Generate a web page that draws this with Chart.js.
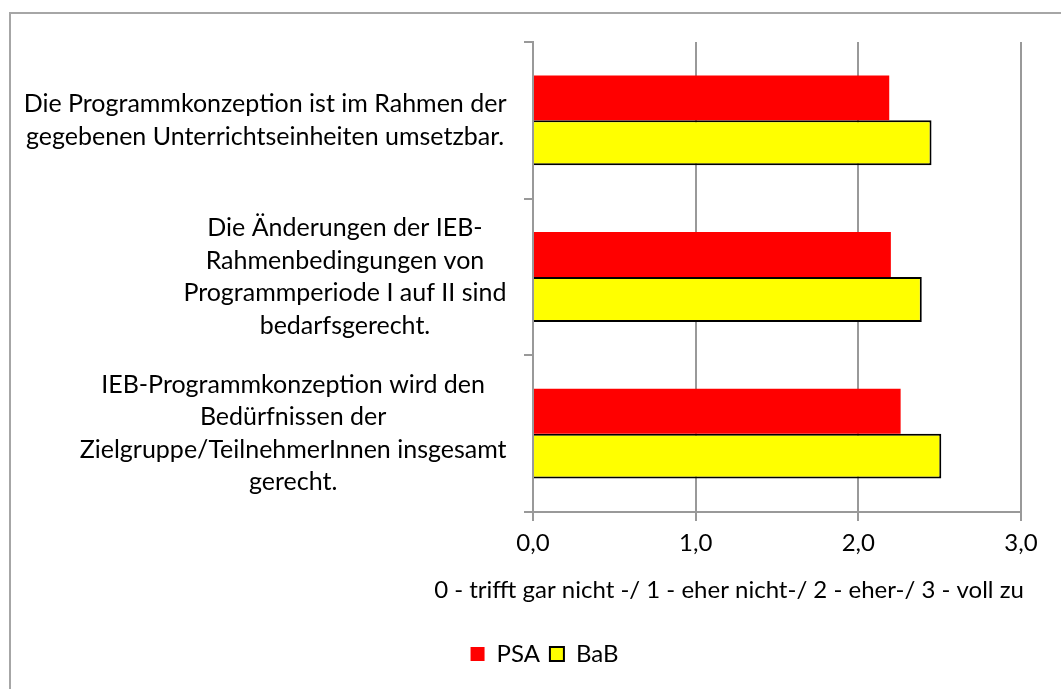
<!DOCTYPE html>
<html>
<head>
<meta charset="utf-8">
<script src="https://cdn.jsdelivr.net/npm/chart.js@4"></script>
<style>
  html, body { margin: 0; padding: 0; background: #fff; overflow: hidden; }
  #frame { position: absolute; left: 9px; top: 12px; width: 1200px; height: 800px; border: 2px solid #a6a6a6; }
  #wrap { position: absolute; left: 0; top: 0; width: 1061px; height: 689px; }
</style>
</head>
<body>
<div id="frame"></div>
<div id="wrap"><canvas id="barChart"></canvas></div>
<script>
const categories = [
    ['Die Programmkonzeption ist im Rahmen der', 'gegebenen Unterrichtseinheiten umsetzbar.'],
    ['Die Änderungen der IEB-', 'Rahmenbedingungen von', 'Programmperiode I auf II sind', 'bedarfsgerecht.'],
    ['IEB-Programmkonzeption wird den', 'Bedürfnissen der', 'Zielgruppe/TeilnehmerInnen insgesamt', 'gerecht.']
];
const psaValues = [2.19, 2.20, 2.26];
const babValues = [2.45, 2.39, 2.51];
const xTicks = [0, 1, 2, 3];
const axisTitle = '0 - trifft gar nicht -/ 1 - eher nicht-/ 2 - eher-/ 3 - voll zu';

const FONT = 'Lato, "Open Sans", sans-serif';
const FSIZE = 24;

// Excel style category labels: block right aligned, lines centered inside it
const labelPlugin = {
    id: 'excelLabels',
    afterDraw(chart) {
        const ctx = chart.ctx, y = chart.scales.y, area = chart.chartArea;
        ctx.save();
        ctx.fillStyle = '#000';
        ctx.textAlign = 'center';
        ctx.textBaseline = 'middle';
        ctx.font = '25px ' + FONT;
        const lh = 32.5;
        categories.forEach((lines, i) => {
            const w = Math.max(...lines.map(l => ctx.measureText(l).width));
            const cx = area.left - 26.5 - w / 2;
            const cy = y.getPixelForValue(i);
            lines.forEach((l, j) => ctx.fillText(l, cx, cy + (j - (lines.length - 1) / 2) * lh));
        });
        ctx.font = FSIZE + 'px ' + FONT;
        ctx.fillText(axisTitle, (area.left + area.right) / 2 - 48, area.bottom + 78);
        ctx.restore();
    }
};

const ctx = document.getElementById('barChart').getContext('2d');
new Chart(ctx, {
    type: 'bar',
    data: {
        labels: categories,
        datasets: [
            { label: 'PSA', data: psaValues, backgroundColor: '#ff0000', borderWidth: 0 },
            { label: 'BaB', data: babValues, backgroundColor: '#ffff00', borderColor: '#000', borderWidth: 2 }
        ]
    },
    options: {
        indexAxis: 'y',
        responsive: true, maintainAspectRatio: false, animation: false,
        layout: { padding: { top: 42, right: 40, bottom: 13, left: 68 } },
        datasets: { bar: { categoryPercentage: 0.573, barPercentage: 1 } },
        plugins: {
            legend: {
                position: 'bottom',
                labels: { font: { family: FONT, size: FSIZE }, color: '#000', boxWidth: 14, boxHeight: 14, padding: 10 }
            },
            tooltip: { enabled: false }
        },
        scales: {
            x: {
                min: 0, max: 3,
                afterBuildTicks: s => { s.ticks = xTicks.map(v => ({ value: v })); },
                afterFit: s => { s.height = 120; },
                grid: { color: '#999', lineWidth: 2, tickLength: 9 },
                border: { color: '#999', width: 2 },
                ticks: { font: { family: FONT, size: FSIZE }, color: '#000', padding: 8,
                         callback: v => v.toFixed(1).replace('.', ',') }
            },
            y: {
                afterFit: s => { s.width = 465; },
                grid: { color: '#999', lineWidth: 2, tickLength: 9, drawOnChartArea: false, offset: true },
                border: { color: '#999', width: 2 },
                ticks: { display: false }
            }
        }
    },
    plugins: [labelPlugin]
});
</script>
</body>
</html>
